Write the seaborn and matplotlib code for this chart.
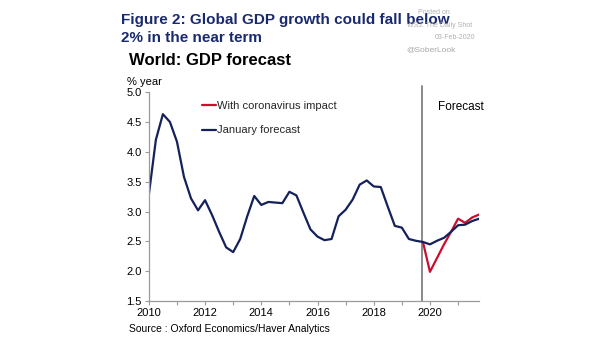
import numpy as np
import pandas as pd
import matplotlib
matplotlib.use("Agg")
import matplotlib.pyplot as plt
import seaborn as sns

# Quarterly world GDP growth, % year
quarters = [2010 + 0.25 * i for i in range(48)]
january_forecast = [
    3.28, 4.20, 4.63, 4.50, 4.17, 3.58, 3.22, 3.02,
    3.19, 2.94, 2.66, 2.40, 2.32, 2.54, 2.92, 3.26,
    3.11, 3.16, 3.15, 3.14, 3.33, 3.27, 2.98, 2.70,
    2.58, 2.52, 2.54, 2.92, 3.03, 3.20, 3.45, 3.52,
    3.42, 3.41, 3.08, 2.76, 2.73, 2.54, 2.51, 2.49,
    2.45, 2.51, 2.56, 2.66, 2.77, 2.78, 2.84, 2.88,
]
corona_quarters = [2019.75, 2020.0, 2020.25, 2020.5, 2020.75, 2021.0, 2021.25, 2021.5, 2021.75]
with_coronavirus = [2.49, 1.99, 2.22, 2.45, 2.66, 2.88, 2.81, 2.90, 2.95]

series_names = ["With coronavirus impact", "January forecast"]
series_colors = ["#c8102e", "#14215a"]

forecast_start = 2019.7
x_ticks = list(range(2010, 2022))
x_labels = [str(y) if y % 2 == 0 else "" for y in x_ticks]
y_ticks = [1.5, 2.0, 2.5, 3.0, 3.5, 4.0, 4.5, 5.0]

df = pd.concat([
    pd.DataFrame({"year": corona_quarters, "value": with_coronavirus, "series": series_names[0]}),
    pd.DataFrame({"year": quarters, "value": january_forecast, "series": series_names[1]}),
])

sns.set_theme(style="white")
plt.rcParams["font.family"] = ["Liberation Sans", "DejaVu Sans"]

fig = plt.figure(figsize=(6.05, 3.41), dpi=100)
ax = fig.add_axes([0.246, 0.117, 0.546, 0.613])

sns.lineplot(data=df, x="year", y="value", hue="series", hue_order=series_names,
             palette=series_colors, linewidth=1.6, ax=ax, legend=True)

ax.axvline(forecast_start, ymin=0, ymax=1.03, color="#808080", linewidth=1.3,
           clip_on=False, zorder=0)

ax.set_xlim(2010, 2021.75)
ax.set_ylim(1.5, 5.0)
ax.set_xticks(x_ticks)
ax.set_xticklabels(x_labels)
ax.set_yticks(y_ticks)
ax.set_yticklabels([f"{v:.1f}" for v in y_ticks])
ax.set_xlabel("")
ax.set_ylabel("")
ax.tick_params(axis="both", labelsize=8, colors="#000000", length=3, width=0.8,
               direction="out", bottom=True, left=True, pad=2)
ax.tick_params(axis="both", color="#9a9a9a")
for side in ["top", "right"]:
    ax.spines[side].set_visible(False)
for side in ["left", "bottom"]:
    ax.spines[side].set_color("#9a9a9a")
    ax.spines[side].set_linewidth(0.9)

handles, labels = ax.get_legend_handles_labels()
ax.legend(handles, labels, loc="upper left", bbox_to_anchor=(0.135, 1.0),
          frameon=False, fontsize=8, handlelength=1.2, handletextpad=0.1,
          labelspacing=1.3, borderpad=0.3)

ax.text(0.876, 0.93, "Forecast", transform=ax.transAxes, fontsize=8.5,
        ha="left", va="center", color="#000000")

# Headings
fig.text(0.200, 0.930, "Figure 2: Global GDP growth could fall below",
         fontsize=11, fontweight="bold", color="#1a2a6e", ha="left", va="baseline")
fig.text(0.200, 0.877, "2% in the near term",
         fontsize=11, fontweight="bold", color="#1a2a6e", ha="left", va="baseline")
fig.text(0.213, 0.810, "World: GDP forecast",
         fontsize=12, fontweight="bold", color="#000000", ha="left", va="baseline")
fig.text(0.210, 0.752, "% year", fontsize=8, color="#000000", ha="left", va="baseline")
fig.text(0.213, 0.025, "Source : Oxford Economics/Haver Analytics",
         fontsize=7.5, color="#000000", ha="left", va="baseline")

# Attribution
fig.text(0.717, 0.962, "Posted on", fontsize=5, color="#b0b0b0", ha="center", va="center")
fig.text(0.727, 0.925, "WSJ: The Daily Shot", fontsize=5, color="#b0b0b0", ha="center", va="center")
fig.text(0.752, 0.890, "03-Feb-2020", fontsize=5, color="#b0b0b0", ha="center", va="center")
fig.text(0.712, 0.853, "@SoberLook", fontsize=6, color="#a8a8a8", ha="center", va="center")

fig.savefig("out.png", dpi=100)
